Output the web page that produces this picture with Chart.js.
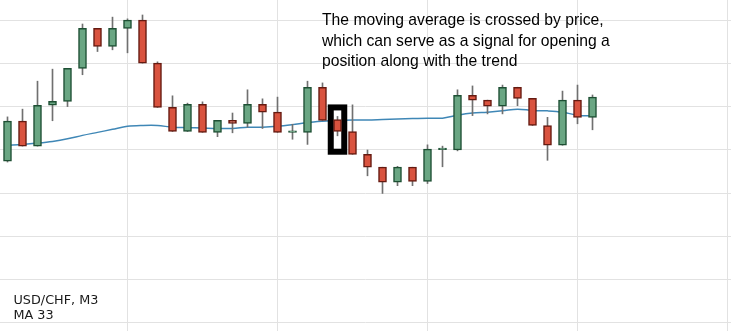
<!DOCTYPE html>
<html>
<head>
<meta charset="utf-8">
<script src="https://cdn.jsdelivr.net/npm/chart.js@4.4.1/dist/chart.umd.min.js"></script>
<style>
  html, body { margin: 0; padding: 0; background: #ffffff; }
  #wrap { width: 731px; height: 331px; position: relative; }
</style>
</head>
<body>
<div id="wrap"><canvas id="chart" width="731" height="331"></canvas></div>
<script>
// USD/CHF, M3 candles (open, high, low, close)
const opens  = [0.91974, 0.92067, 0.92009, 0.92104, 0.92113, 0.92190, 0.92283, 0.92241, 0.92283, 0.92302,
                0.92202, 0.92099, 0.92043, 0.92106, 0.92041, 0.92069, 0.92062, 0.92106, 0.92088, 0.92041,
                0.92041, 0.92146, 0.92071, 0.92043, 0.91990, 0.91960, 0.91925, 0.91960, 0.91927, 0.92001,
                0.92000, 0.92127, 0.92116, 0.92102, 0.92146, 0.92120, 0.92057, 0.92011, 0.92116, 0.92076];
const highs  = [0.92077, 0.92095, 0.92160, 0.92188, 0.92190, 0.92293, 0.92283, 0.92309, 0.92305, 0.92314,
                0.92205, 0.92126, 0.92109, 0.92112, 0.92069, 0.92086, 0.92140, 0.92119, 0.92123, 0.92060,
                0.92160, 0.92156, 0.92078, 0.92105, 0.92000, 0.91960, 0.91962, 0.91960, 0.92012, 0.92009,
                0.92140, 0.92149, 0.92116, 0.92151, 0.92146, 0.92120, 0.92076, 0.92137, 0.92151, 0.92128];
const lows   = [0.91972, 0.92009, 0.92009, 0.92068, 0.92101, 0.92175, 0.92229, 0.92233, 0.92226, 0.92202,
                0.92099, 0.92043, 0.92043, 0.92041, 0.92031, 0.92040, 0.92053, 0.92050, 0.92041, 0.92025,
                0.92013, 0.92069, 0.92033, 0.91990, 0.91940, 0.91899, 0.91917, 0.91917, 0.91922, 0.91961,
                0.91998, 0.92080, 0.92084, 0.92084, 0.92103, 0.92057, 0.91976, 0.92011, 0.92061, 0.92047];
const closes = [0.92067, 0.92009, 0.92104, 0.92113, 0.92190, 0.92283, 0.92241, 0.92283, 0.92302, 0.92202,
                0.92099, 0.92043, 0.92106, 0.92041, 0.92069, 0.92062, 0.92106, 0.92088, 0.92041, 0.92042,
                0.92146, 0.92069, 0.92043, 0.91990, 0.91960, 0.91925, 0.91960, 0.91927, 0.92002, 0.92002,
                0.92127, 0.92116, 0.92102, 0.92146, 0.92120, 0.92057, 0.92011, 0.92116, 0.92076, 0.92123];

// Moving average (33 periods) at each candle
const ma33   = [0.92011, 0.92013, 0.92016, 0.92020, 0.92026, 0.92034, 0.92041, 0.92048, 0.92055, 0.92057,
                0.92057, 0.92053, 0.92052, 0.92051, 0.92050, 0.92050, 0.92053, 0.92053, 0.92055, 0.92059,
                0.92064, 0.92067, 0.92069, 0.92070, 0.92070, 0.92071, 0.92072, 0.92073, 0.92074, 0.92074,
                0.92081, 0.92086, 0.92088, 0.92091, 0.92095, 0.92092, 0.92091, 0.92088, 0.92081, 0.92079];

// Price grid levels and time grid positions (candle index)
const priceTicks = [0.916, 0.917, 0.918, 0.919, 0.920, 0.921, 0.922, 0.923];
const timeTicks  = [8, 18, 28, 38, 48];

// Candle where price crosses the average, and the price band framed around it
const signalIndex = 22;
const signalBand = [0.91996, 0.92099];

const noteLines = [
  'The moving average is crossed by price,',
  'which can serve as a signal for opening a',
  'position along with the trend'
];
const infoLines = ['USD/CHF, M3', 'MA 33'];

const UP_FILL = '#6aa683', UP_EDGE = '#1d4f33';
const DN_FILL = '#d9533f', DN_EDGE = '#651a10';

const idx = opens.map((_, i) => i);
const isUp = idx.map(i => closes[i] >= opens[i]);

const bodyData = idx.map(i => ({ x: i, y: [opens[i], closes[i]] }));
const wickData = idx.map(i => ({ x: i, y: [lows[i], highs[i]] }));
const maData = idx.map(i => ({ x: i, y: ma33[i] }));

const signalFrame = {
  id: 'signalFrame',
  beforeDatasetDraw(chart, args) {
    if (args.index !== 1) return;
    const { ctx, scales: { x, y } } = chart;
    const x0 = x.getPixelForValue(signalIndex - 0.45);
    const x1 = x.getPixelForValue(signalIndex + 0.45);
    const y0 = y.getPixelForValue(signalBand[1]);
    const y1 = y.getPixelForValue(signalBand[0]);
    ctx.save();
    ctx.fillStyle = '#ffffff';
    ctx.strokeStyle = '#000000';
    ctx.lineWidth = 6;
    ctx.fillRect(x0, y0, x1 - x0, y1 - y0);
    ctx.strokeRect(x0, y0, x1 - x0, y1 - y0);
    ctx.restore();
  }
};

const captions = {
  id: 'captions',
  afterDraw(chart) {
    const ctx = chart.ctx;
    ctx.save();
    ctx.fillStyle = '#000000';
    ctx.textBaseline = 'alphabetic';
    ctx.font = '15.7px "Liberation Sans", Arial, sans-serif';
    noteLines.forEach((t, k) => ctx.fillText(t, 322, 25 + k * 20.6));
    ctx.fillStyle = '#1a1a1a';
    ctx.font = '12.8px "DejaVu Sans", Verdana, sans-serif';
    infoLines.forEach((t, k) => ctx.fillText(t, 13.5, 303.7 + k * 14.8));
    ctx.restore();
  }
};

new Chart(document.getElementById('chart'), {
  type: 'bar',
  data: {
    datasets: [
      {
        type: 'line',
        data: maData,
        borderColor: '#3f87b6',
        borderWidth: 1.5,
        pointRadius: 0,
        tension: 0.35,
        order: 3
      },
      {
        type: 'bar',
        data: wickData,
        backgroundColor: '#707070',
        borderWidth: 0,
        barThickness: 1,
        grouped: false,
        order: 2
      },
      {
        type: 'bar',
        data: bodyData,
        backgroundColor: idx.map(i => isUp[i] ? UP_FILL : DN_FILL),
        borderColor: idx.map(i => isUp[i] ? UP_EDGE : DN_EDGE),
        borderWidth: 1.5,
        borderSkipped: false,
        barThickness: 8,
        minBarLength: 1.5,
        grouped: false,
        order: 1
      }
    ]
  },
  options: {
    responsive: false,
    animation: false,
    layout: { padding: 0 },
    plugins: { legend: { display: false }, tooltip: { enabled: false } },
    scales: {
      x: {
        type: 'linear',
        offset: false,
        min: -0.5,
        max: 731 / 15 - 0.5,
        afterBuildTicks: s => { s.ticks = timeTicks.map(v => ({ value: v })); },
        ticks: { display: false },
        grid: { color: '#e2e2e2', drawTicks: false, offset: false },
        border: { display: false }
      },
      y: {
        type: 'linear',
        min: 0.916 - 9 / 43000,
        max: 0.923 + 21 / 43000,
        afterBuildTicks: s => { s.ticks = priceTicks.map(v => ({ value: v })); },
        ticks: { display: false },
        grid: { color: '#e2e2e2', drawTicks: false },
        border: { display: false }
      }
    }
  },
  plugins: [signalFrame, captions]
});
</script>
</body>
</html>
